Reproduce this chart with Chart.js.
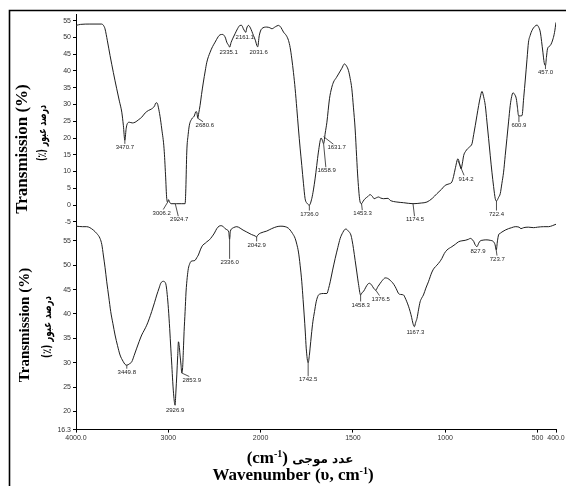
<!DOCTYPE html>
<html>
<head>
<meta charset="utf-8">
<script src="https://cdn.jsdelivr.net/npm/chart.js@4.4.1/dist/chart.umd.min.js"></script>
<style>
html,body{margin:0;padding:0;background:#fff;}
#wrap{width:566px;height:486px;position:relative;}
</style>
</head>
<body>
<div id="wrap"><canvas id="c" width="566" height="486"></canvas></div>
<script>
// ---------- DATA ----------
const xTickValues = [4000, 3000, 2000, 1500, 1000, 500, 400];
const xTickLabels = ['4000.0', '3000', '2000', '1500', '1000', '500', '400.0'];

const topTickValues = [-5, 0, 5, 10, 15, 20, 25, 30, 35, 40, 45, 50, 55];
const topTickLabels = ['-5', '0', '5', '10', '15', '20', '25', '30', '35', '40', '45', '50', '55'];
const bottomTickValues = [16.3, 20, 25, 30, 35, 40, 45, 50, 55];
const bottomTickLabels = ['16.3', '20', '25', '30', '35', '40', '45', '50', '55'];

// Upper spectrum: wavenumber (cm-1) and transmission (%)
const topWavenumber = [4000,3950,3850,3722,3700,3686,3660,3631,3595,3559,3530,3504,3487,3470.7,3458,3450,3422,3390,3360,3320,3288,3250,3216,3180,3150,3133,3120,3108,3090,3071,3046,3030,3017,3006.2,2998,2985,2970,2924.7,2908,2860,2818,2810,2800,2785,2772,2746,2720,2699,2690,2680.6,2670,2656,2640,2620,2600,2583,2547,2520,2493,2460,2439,2410,2396,2380,2367,2345,2335.1,2320,2300,2277,2250,2222,2205,2187,2170,2161.1,2150,2132,2110,2078,2055,2041,2031.6,2015,1994,1967,1950,1939,1920,1903,1890,1876,1860,1849,1840,1831,1822,1813,1804,1795,1786,1777,1768,1759,1748,1736,1723,1714,1705,1696,1687,1672,1665,1658.9,1650,1641,1627,1615,1605,1590,1578,1560,1546,1535,1524,1515,1506,1497,1488,1480,1473,1461,1453.3,1444,1434,1420,1407,1395,1385,1372,1361,1350,1334,1310,1298,1262,1226,1174.5,1130,1099,1070,1045,1020,1000,980,964,955,946,931,922,914.2,907,900,890,879,867,855,846,837,828,819,810,801,792,783,774,765,756,747,738,729,722.4,711,702,693,684,675,666,657,648,640,633,624,615,609,603,593,584,575,566,557,549,540,530,515,503,495,485,478,471,464,457,452,446,431,416,408,400];
const topTransmission = [53.6,53.9,54.0,54.0,53.5,52.6,49.0,44.6,39.5,34.7,31.0,27.7,23.8,19.3,22.5,23.8,24.7,24.5,24.7,25.5,26.2,27.5,28.2,28.7,29.5,30.5,30.4,29.2,26.5,22.7,16.8,9.0,1.9,0.9,1.6,0.8,0.4,0.4,0.4,0.4,0.4,5.0,15.8,21.0,23.8,25.7,26.5,27.9,27.5,25.9,27.5,29.7,33.0,36.7,40.0,42.6,45.6,47.3,48.6,50.2,50.8,50.9,50.6,49.8,48.6,47.6,47.1,48.5,49.8,51.1,52.6,53.6,53.6,52.6,51.8,51.5,52.8,53.6,52.8,50.6,49.0,47.6,47.2,50.5,52.6,53.1,52.9,52.6,53.2,53.6,53.0,51.6,50.5,49.1,47.0,43.6,39.5,34.7,28.8,22.7,17.0,11.8,6.5,1.9,0.5,0.0,1.9,4.5,7.8,11.8,15.8,20.0,19.2,18.3,21.5,24.7,31.7,35.0,36.7,38.0,39.1,40.8,42.1,41.5,40.1,37.8,34.7,29.0,22.7,14.5,7.8,0.9,0.4,1.2,1.9,2.5,3.1,2.6,1.9,2.2,2.4,2.1,1.9,2.0,1.4,0.9,0.7,0.4,0.6,0.9,2.0,3.4,4.7,5.9,6.3,6.9,8.5,10.8,13.8,12.3,10.8,12.5,14.8,16.0,16.8,17.4,18.3,21.0,23.8,26.8,29.7,32.2,33.9,32.3,29.7,24.8,19.8,14.7,9.8,5.5,1.9,1.2,2.3,3.4,6.5,9.8,14.8,19.8,24.8,29.7,32.4,33.5,33.0,31.7,29.2,26.7,26.6,26.7,32.0,37.6,43.5,48.6,50.6,52.1,53.3,53.7,53.2,51.6,48.8,45.6,42.5,41.6,44.0,46.6,47.6,49.6,51.5,54.5];

// Lower spectrum
const bottomWavenumber = [4000,3930,3884,3850,3812,3775,3740,3720,3704,3685,3667,3645,3624,3600,3577,3550,3523,3490,3470,3449.8,3420,3396,3370,3342,3315,3288,3260,3234,3207,3180,3150,3125,3100,3082,3054,3035,3024,3012,2999,2985,2973,2962,2952,2940,2926.9,2918,2908,2898,2890,2882,2873,2862,2853.9,2845,2837,2829,2818,2808,2795,2783,2768,2753,2730,2710,2690,2674,2650,2627,2600,2583,2555,2529,2500,2475,2450,2431,2410,2385,2359,2345,2336,2328,2310,2294,2258,2222,2190,2150,2100,2060,2042.9,2030,2000,1967,1940,1912,1890,1867,1850,1840,1827,1813,1804,1795,1786,1777,1770,1764,1758,1753,1742.5,1736,1732,1725,1717,1708,1699,1688,1678,1660,1641,1632,1623,1610,1596,1582,1569,1555,1545,1537,1525,1511,1504,1497,1488,1479,1470,1458.3,1450,1443,1430,1420,1410,1398,1388,1376.5,1365,1352,1340,1325,1312,1298,1285,1271,1262,1253,1240,1226,1217,1208,1199,1190,1182,1175,1167.3,1160,1153,1144,1136,1127,1118,1105,1091,1072,1060,1045,1030,1018,1005,991,964,945,928,910,892,875,864,855,846,838,827.9,819,810,801,780,756,738,730,723.7,717,711,700,693,675,657,640,621,600,590,575,550,521,500,467,440,420,400];
const bottomTransmission = [58.0,57.9,57.9,57.7,57.2,56.5,55.5,54.2,52.1,49.5,46.6,43.5,40.5,38.0,35.7,33.5,31.6,30.3,29.7,29.5,29.8,30.2,31.5,33.0,34.4,35.7,36.7,37.7,39.0,40.5,42.3,43.9,45.3,46.3,46.7,46.5,45.9,44.0,41.1,37.0,33.0,29.5,26.1,23.0,21.3,24.0,27.5,31.5,34.3,33.5,31.6,29.5,27.9,29.0,32.5,36.4,40.5,44.5,47.5,49.3,50.3,50.8,50.9,51.0,51.6,52.1,53.3,54.1,54.5,54.8,55.2,55.8,56.6,57.5,58.0,58.1,58.0,57.5,57.2,56.8,55.3,56.9,57.5,57.7,57.9,57.6,57.2,56.8,56.3,56.0,55.8,56.2,56.6,57.0,57.5,57.9,58.0,57.9,57.6,57.2,56.5,55.5,54.3,52.7,50.0,46.6,43.0,39.8,36.3,33.0,30.0,31.5,33.0,35.7,38.4,40.5,42.5,43.8,44.1,44.2,44.2,45.2,46.6,49.0,51.4,53.6,55.5,56.7,57.3,57.4,57.0,56.2,55.0,53.4,51.0,48.6,46.2,43.9,44.4,44.6,45.5,46.1,46.3,45.9,45.3,44.9,45.6,46.3,46.9,47.4,47.3,46.9,46.4,45.6,44.9,44.2,44.0,43.9,43.3,42.5,41.6,40.5,39.3,38.1,37.4,38.3,39.1,41.0,42.5,43.3,43.9,45.3,46.6,48.6,49.4,50.0,50.7,51.4,52.4,53.1,53.8,54.3,54.8,55.0,55.1,55.3,55.5,55.3,54.9,54.2,53.8,54.5,55.0,55.1,55.2,55.1,54.8,54.2,53.1,55.0,56.2,56.6,56.8,57.2,57.5,57.7,57.9,57.8,57.5,57.7,57.8,57.7,57.8,57.9,57.9,58.1,58.4];

// Peak annotations (wavenumber and printed text)
const topPeaks = [3470.7,3006.2,2924.7,2680.6,2335.1,2161.1,2031.6,1736.0,1658.9,1631.7,1453.3,1174.5,914.2,722.4,600.9,457.0];
const topPeakLabels = ['3470.7','3006.2','2924.7','2680.6','2335.1','2161.1','2031.6','1736.0','1658.9','1631.7','1453.3','1174.5','914.2','722.4','600.9','457.0'];
const bottomPeaks = [3449.8,2926.9,2853.9,2336.0,2042.9,1742.5,1458.3,1376.5,1167.3,827.9,723.7];
const bottomPeakLabels = ['3449.8','2926.9','2853.9','2336.0','2042.9','1742.5','1458.3','1376.5','1167.3','827.9','723.7'];

// ---------- STYLE / LAYOUT (label offsets in px: [dx, dy, leaderStartDx, leaderStartDy]) ----------
const topPeakOffsets = [[0,7,0,0],[-6,11,0,0],[4,16,0,0],[7,7,0,0],[-1,5,0,0],[-1,5,0,0],[1,5,0,0],[0,9,0,0],[3,27,0,0],[8,41,-5,30],[1,10,0,0],[2,16,0,0],[5,10,-3,-8],[0,13,0,0],[0,10,0,0],[0,7,0,0]];
const bottomPeakOffsets = [[0,7,0,0],[0,5,0,0],[10,7,0,0],[0,23,0,0],[0,8,0,0],[0,17,0,0],[0,10,0,0],[5,9,0,0],[1,6,0,0],[1,5,0,0],[1,9,0,0]];

// ---------- custom two-range FTIR axis (4000-2000 compressed 2x) ----------
const toU = w => (w >= 2000 ? (4000 - w) / 2 : 1000 + (2000 - w));
const fromU = u => (u <= 1000 ? 4000 - 2 * u : 3000 - u);
class FtirScale extends Chart.LinearScale {
  determineDataLimits() {
    super.determineDataLimits();
    const a = toU(this.min), b = toU(this.max);
    this.min = Math.min(a, b);
    this.max = Math.max(a, b);
  }
  getPixelForValue(v) { return super.getPixelForValue(toU(v)); }
  getValueForPixel(p) { return fromU(super.getValueForPixel(p)); }
}
FtirScale.id = 'ftir';
FtirScale.defaults = Chart.LinearScale.defaults;
Chart.register(FtirScale);

const zip = (xs, ys) => xs.map((x, i) => ({ x: x, y: ys[i] }));
function interp(xs, ys, w) {
  for (let i = 0; i < xs.length - 1; i++) {
    const a = xs[i], b = xs[i + 1];
    if ((w <= a && w >= b) || (w >= a && w <= b)) {
      const t = a === b ? 0 : (w - a) / (b - a);
      return ys[i] + t * (ys[i + 1] - ys[i]);
    }
  }
  return ys[ys.length - 1];
}

const tickFont = { family: "'Liberation Sans', Arial, sans-serif", size: 7 };
const tickColor = '#333';

function yAxis(min, max, vals, labels) {
  return {
    type: 'linear', position: 'left', stack: 'ftir', stackWeight: 1,
    min: min, max: max,
    afterBuildTicks: s => { s.ticks = vals.map(v => ({ value: v })); },
    afterFit: s => { s.width = 76; },
    ticks: { autoSkip: false, padding: 2, font: tickFont, color: tickColor,
      callback: (v, i) => labels[i] },
    grid: { drawOnChartArea: false, drawTicks: true, tickLength: 3, color: '#000', lineWidth: 1 },
    border: { display: true, color: '#000', width: 1 }
  };
}

// ---------- plugins ----------
const framePlugin = {
  id: 'frame',
  beforeDraw(chart) {
    const ctx = chart.ctx;
    ctx.save();
    ctx.fillStyle = '#fff';
    ctx.fillRect(0, 0, chart.width, chart.height);
    ctx.strokeStyle = '#000';
    ctx.lineWidth = 1.6;
    ctx.beginPath();
    ctx.moveTo(9.5, chart.height);
    ctx.lineTo(9.5, 10.5);
    ctx.lineTo(chart.width, 10.5);
    ctx.stroke();
    ctx.restore();
  }
};

function drawRuns(ctx, runs, cx, cy) {
  let total = 0;
  runs.forEach(r => { ctx.font = r.font; r.w = ctx.measureText(r.t).width; total += r.w; });
  let x = cx - total / 2;
  ctx.textAlign = 'left';
  ctx.textBaseline = 'alphabetic';
  runs.forEach(r => { ctx.font = r.font; ctx.fillText(r.t, x, cy + (r.dy || 0)); x += r.w; });
}

const textPlugin = {
  id: 'texts',
  afterDraw(chart) {
    const ctx = chart.ctx;
    const xs = chart.scales.x, yT = chart.scales.yTop, yB = chart.scales.yBottom;
    ctx.save();
    ctx.fillStyle = '#000';
    const serif = "'Liberation Serif', 'Times New Roman', serif";
    const arab = "'DejaVu Sans', sans-serif";

    // rotated y title; optional fitWidth squeezes the text along its direction
    const yTitle = (x, y, text, font, fitWidth) => {
      ctx.save();
      ctx.translate(x, y);
      ctx.rotate(-Math.PI / 2);
      ctx.textAlign = 'center';
      ctx.textBaseline = 'middle';
      ctx.font = font;
      if (fitWidth) {
        const w = ctx.measureText(text).width;
        if (w > fitWidth) ctx.scale(fitWidth / w, 1);
      }
      ctx.fillText(text, 0, 0);
      ctx.restore();
    };
    yTitle(23, 149, 'Transmission (%)', "bold 17px " + serif);
    yTitle(43, 133, '(٪) درصد عبور', "bold 12px " + arab, 56);
    yTitle(25, 325, 'Transmission (%)', "bold 15px " + serif);
    yTitle(48, 327, '(٪) درصد عبور', "bold 12px " + arab, 62);

    const f16 = "bold 17px " + serif, fsup = "bold 10px " + serif;
    drawRuns(ctx, [
      { t: '(cm', font: f16 }, { t: '-1', font: fsup, dy: -6 }, { t: ')', font: f16 },
      { t: ' عدد موجی', font: "bold 12px " + arab }
    ], 300, 463);
    drawRuns(ctx, [
      { t: 'Wavenumber (υ, cm', font: f16 }, { t: '-1', font: fsup, dy: -6 }, { t: ')', font: f16 }
    ], 293, 480);

    const annotate = (scaleY, wn, vals, peaks, labels, offs) => {
      ctx.font = "6px 'Liberation Sans', Arial, sans-serif";
      ctx.textAlign = 'center';
      ctx.textBaseline = 'middle';
      peaks.forEach((p, i) => {
        const px = xs.getPixelForValue(p);
        const py = scaleY.getPixelForValue(interp(wn, vals, p));
        const o = offs[i];
        const lx = px + o[0], ly = py + o[1];
        const sx = px + o[2], sy = py + o[3];
        if (o[1] > 6) {
          ctx.strokeStyle = '#222';
          ctx.lineWidth = 0.8;
          ctx.beginPath();
          ctx.moveTo(sx, sy);
          ctx.lineTo(lx - (o[0] - o[2]) * 0.25, ly - 3.5);
          ctx.stroke();
        }
        ctx.fillStyle = '#222';
        ctx.fillText(labels[i], lx, ly);
      });
    };
    annotate(yT, topWavenumber, topTransmission, topPeaks, topPeakLabels, topPeakOffsets);
    annotate(yB, bottomWavenumber, bottomTransmission, bottomPeaks, bottomPeakLabels, bottomPeakOffsets);
    ctx.restore();
  }
};

const lineStyle = { borderColor: '#1e1e1e', borderWidth: 1, pointRadius: 0, fill: false,
  cubicInterpolationMode: 'monotone' };

new Chart(document.getElementById('c'), {
  type: 'line',
  data: {
    datasets: [
      Object.assign({ label: 'top', data: zip(topWavenumber, topTransmission), yAxisID: 'yTop', xAxisID: 'x' }, lineStyle),
      Object.assign({ label: 'bottom', data: zip(bottomWavenumber, bottomTransmission), yAxisID: 'yBottom', xAxisID: 'x' }, lineStyle)
    ]
  },
  options: {
    responsive: false,
    animation: false,
    events: [],
    layout: { padding: { top: 14, right: 10, left: 0, bottom: 0 } },
    plugins: { legend: { display: false }, tooltip: { enabled: false }, title: { display: false } },
    scales: {
      x: {
        type: 'ftir', position: 'bottom', min: 400, max: 4000, bounds: 'data',
        afterBuildTicks: s => { s.ticks = xTickValues.map(v => ({ value: v })); },
        afterFit: s => { s.height = 56.4; },
        ticks: { autoSkip: false, maxRotation: 0, minRotation: 0, padding: 1, font: tickFont, color: tickColor,
          callback: (v, i) => xTickLabels[i] },
        grid: { drawOnChartArea: false, drawTicks: true, tickLength: 3, color: '#000', lineWidth: 1 },
        border: { display: true, color: '#000', width: 1 }
      },
      yBottom: yAxis(16.3, 58.9, bottomTickValues, bottomTickLabels),
      yTop: yAxis(-5, 57, topTickValues, topTickLabels)
    }
  },
  plugins: [framePlugin, textPlugin]
});
</script>
</body>
</html>
